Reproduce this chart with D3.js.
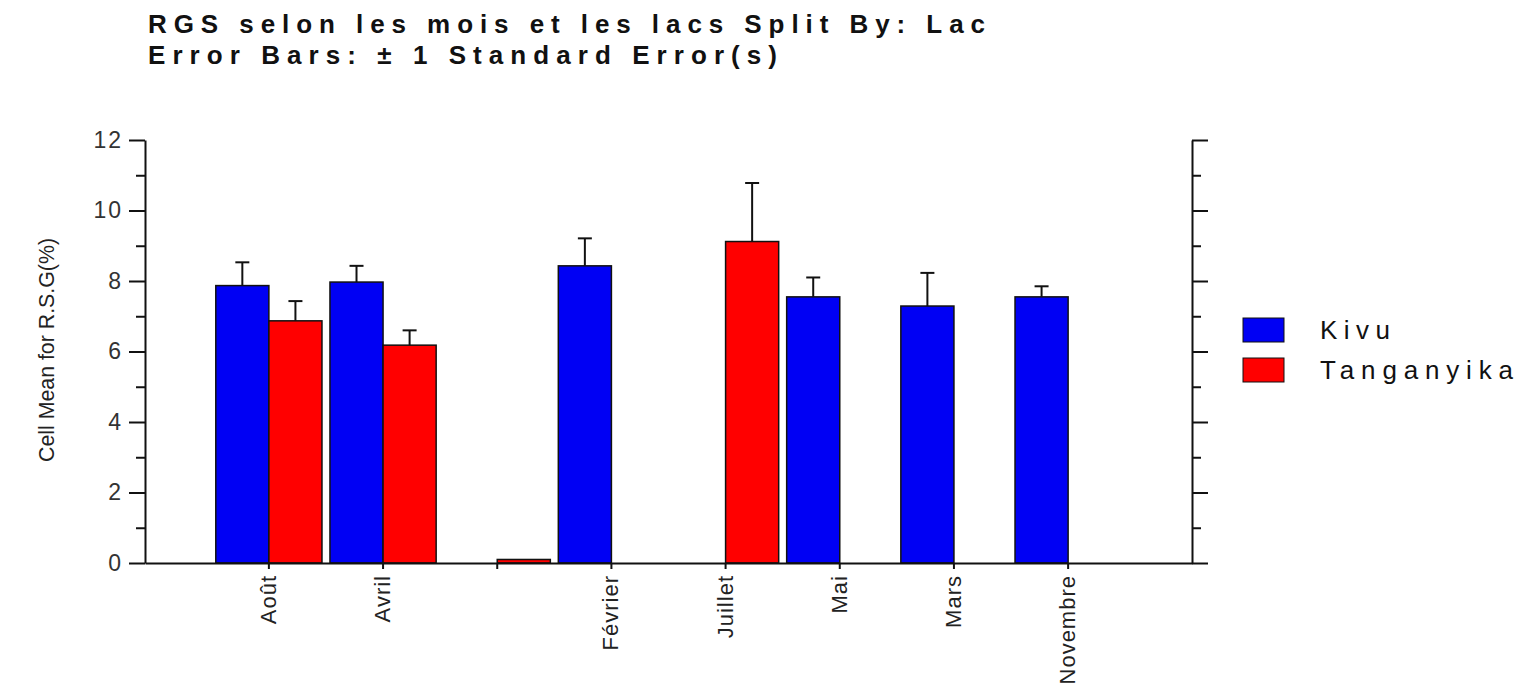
<!DOCTYPE html>
<meta charset="utf-8">
<script src="https://d3js.org/d3.v7.min.js"></script>
<style>
body { margin: 0; background: #fff; }
text { font-family: "Liberation Sans", Arial, sans-serif; fill: #111; }
</style>
<div id="chart"></div>
<script>

// data
var months = ["Août", "Avril", "", "Février", "Juillet", "Mai", "Mars", "Novembre"];
var lakes = ["Kivu", "Tanganyika"];
var kivuMean = [7.87, 7.97, null, 8.43, null, 7.55, 7.29, 7.55];
var kivuSE   = [0.66, 0.46, null, 0.78, null, 0.55, 0.94, 0.30];
var tangMean = [6.87, 6.18, 0.1, null, 9.12, null, null, null];
var tangSE   = [0.56, 0.42, null, null, 1.66, null, null, null];
var yTicks = [0, 2, 4, 6, 8, 10, 12];
var yMinor = [1, 3, 5, 7, 9, 11];
var colors = ["#0000f4", "#ff0000"];

var width = 1530, height = 684;
var plotLeft = 145, plotRight = 1192, plotTop = 140, plotBottom = 563;

var svg = d3.select("#chart").append("svg")
  .attr("width", width)
  .attr("height", height);

// scales
var x0 = d3.scaleBand()
  .domain(months)
  .range([plotLeft, plotRight])
  .paddingInner(0.07)
  .paddingOuter(0.62);

var x1 = d3.scaleBand()
  .domain(lakes)
  .range([0, x0.bandwidth()]);

var y = d3.scaleLinear()
  .domain([0, 12])
  .range([plotBottom, plotTop]);

var color = d3.scaleOrdinal().domain(lakes).range(colors);

// flatten to one row per bar
var rows = [];
months.forEach(function(m, i) {
  if (kivuMean[i] != null) rows.push({month: m, lake: "Kivu", mean: kivuMean[i], se: kivuSE[i]});
  if (tangMean[i] != null) rows.push({month: m, lake: "Tanganyika", mean: tangMean[i], se: tangSE[i]});
});

// title
svg.append("text")
  .attr("x", 148).attr("y", 33)
  .attr("textLength", 837).attr("lengthAdjust", "spacing")
  .style("font-size", "26px").style("font-weight", "bold")
  .text("RGS selon les mois et les lacs Split By: Lac");
svg.append("text")
  .attr("x", 148).attr("y", 64)
  .attr("textLength", 629).attr("lengthAdjust", "spacing")
  .style("font-size", "26px").style("font-weight", "bold")
  .text("Error Bars: ± 1 Standard Error(s)");

// bars
svg.append("g")
  .selectAll("rect")
  .data(rows)
  .enter().append("rect")
    .attr("x", function(d) { return x0(d.month) + x1(d.lake); })
    .attr("y", function(d) { return y(d.mean); })
    .attr("width", x1.bandwidth())
    .attr("height", function(d) { return y(0) - y(d.mean); })
    .style("fill", function(d) { return color(d.lake); })
    .style("stroke", "#111")
    .style("stroke-width", 1.5);

// error bars (upper side only)
var err = svg.append("g")
  .selectAll("g")
  .data(rows.filter(function(d) { return d.se != null; }))
  .enter().append("g")
    .attr("transform", function(d) {
      return "translate(" + (x0(d.month) + x1(d.lake) + x1.bandwidth() / 2) + ",0)";
    });
err.append("line")
  .attr("y1", function(d) { return y(d.mean); })
  .attr("y2", function(d) { return y(d.mean + d.se); })
  .style("stroke", "#111").style("stroke-width", 2);
err.append("line")
  .attr("x1", -7).attr("x2", 7)
  .attr("y1", function(d) { return y(d.mean + d.se); })
  .attr("y2", function(d) { return y(d.mean + d.se); })
  .style("stroke", "#111").style("stroke-width", 2);

// left axis
var yAxisL = svg.append("g")
  .attr("transform", "translate(" + plotLeft + ",0)")
  .call(d3.axisLeft(y).tickValues(yTicks).tickSize(16).tickSizeOuter(0).tickPadding(6));
yAxisL.selectAll("text").style("font-size", "23px").style("letter-spacing", "2px").style("fill", "#333");
svg.append("g")
  .attr("transform", "translate(" + plotLeft + ",0)")
  .call(d3.axisLeft(y).tickValues(yMinor).tickSize(9).tickFormat(""))
  .select(".domain").remove();

// right axis, no labels
svg.append("g")
  .attr("transform", "translate(" + plotRight + ",0)")
  .call(d3.axisRight(y).tickValues(yTicks).tickSize(16).tickSizeOuter(0).tickFormat(""));
svg.append("g")
  .attr("transform", "translate(" + plotRight + ",0)")
  .call(d3.axisRight(y).tickValues(yMinor).tickSize(9).tickFormat(""))
  .select(".domain").remove();

// bottom axis
var xAxis = svg.append("g")
  .attr("transform", "translate(0," + plotBottom + ")")
  .call(d3.axisBottom(x0).tickSize(6).tickSizeOuter(0));
xAxis.selectAll("text")
  .attr("transform", "rotate(-90)")
  .attr("x", -12).attr("y", 7)
  .attr("dy", "0")
  .style("text-anchor", "end")
  .style("font-size", "22px")
  .style("letter-spacing", "1px")
  .style("fill", "#222");

svg.selectAll(".domain, .tick line").style("stroke", "#111").style("stroke-width", 2);

// y title
svg.append("text")
  .attr("transform", "translate(54,350) rotate(-90)")
  .attr("text-anchor", "middle")
  .attr("textLength", 224).attr("lengthAdjust", "spacingAndGlyphs")
  .style("font-size", "22px").style("fill", "#222")
  .text("Cell Mean for R.S.G(%)");

// legend
var legend = svg.append("g")
  .selectAll("g")
  .data(lakes)
  .enter().append("g")
    .attr("transform", function(d, i) { return "translate(1243," + (318 + i * 40) + ")"; });
legend.append("rect")
  .attr("width", 41).attr("height", 24)
  .style("fill", function(d) { return color(d); })
  .style("stroke", "#111").style("stroke-width", 1);
legend.append("text")
  .attr("x", 77).attr("y", 21)
  .attr("textLength", function(d) { return d == "Kivu" ? 70 : 193; })
  .attr("lengthAdjust", "spacing")
  .style("font-size", "26px")
  .text(function(d) { return d; });

</script>
